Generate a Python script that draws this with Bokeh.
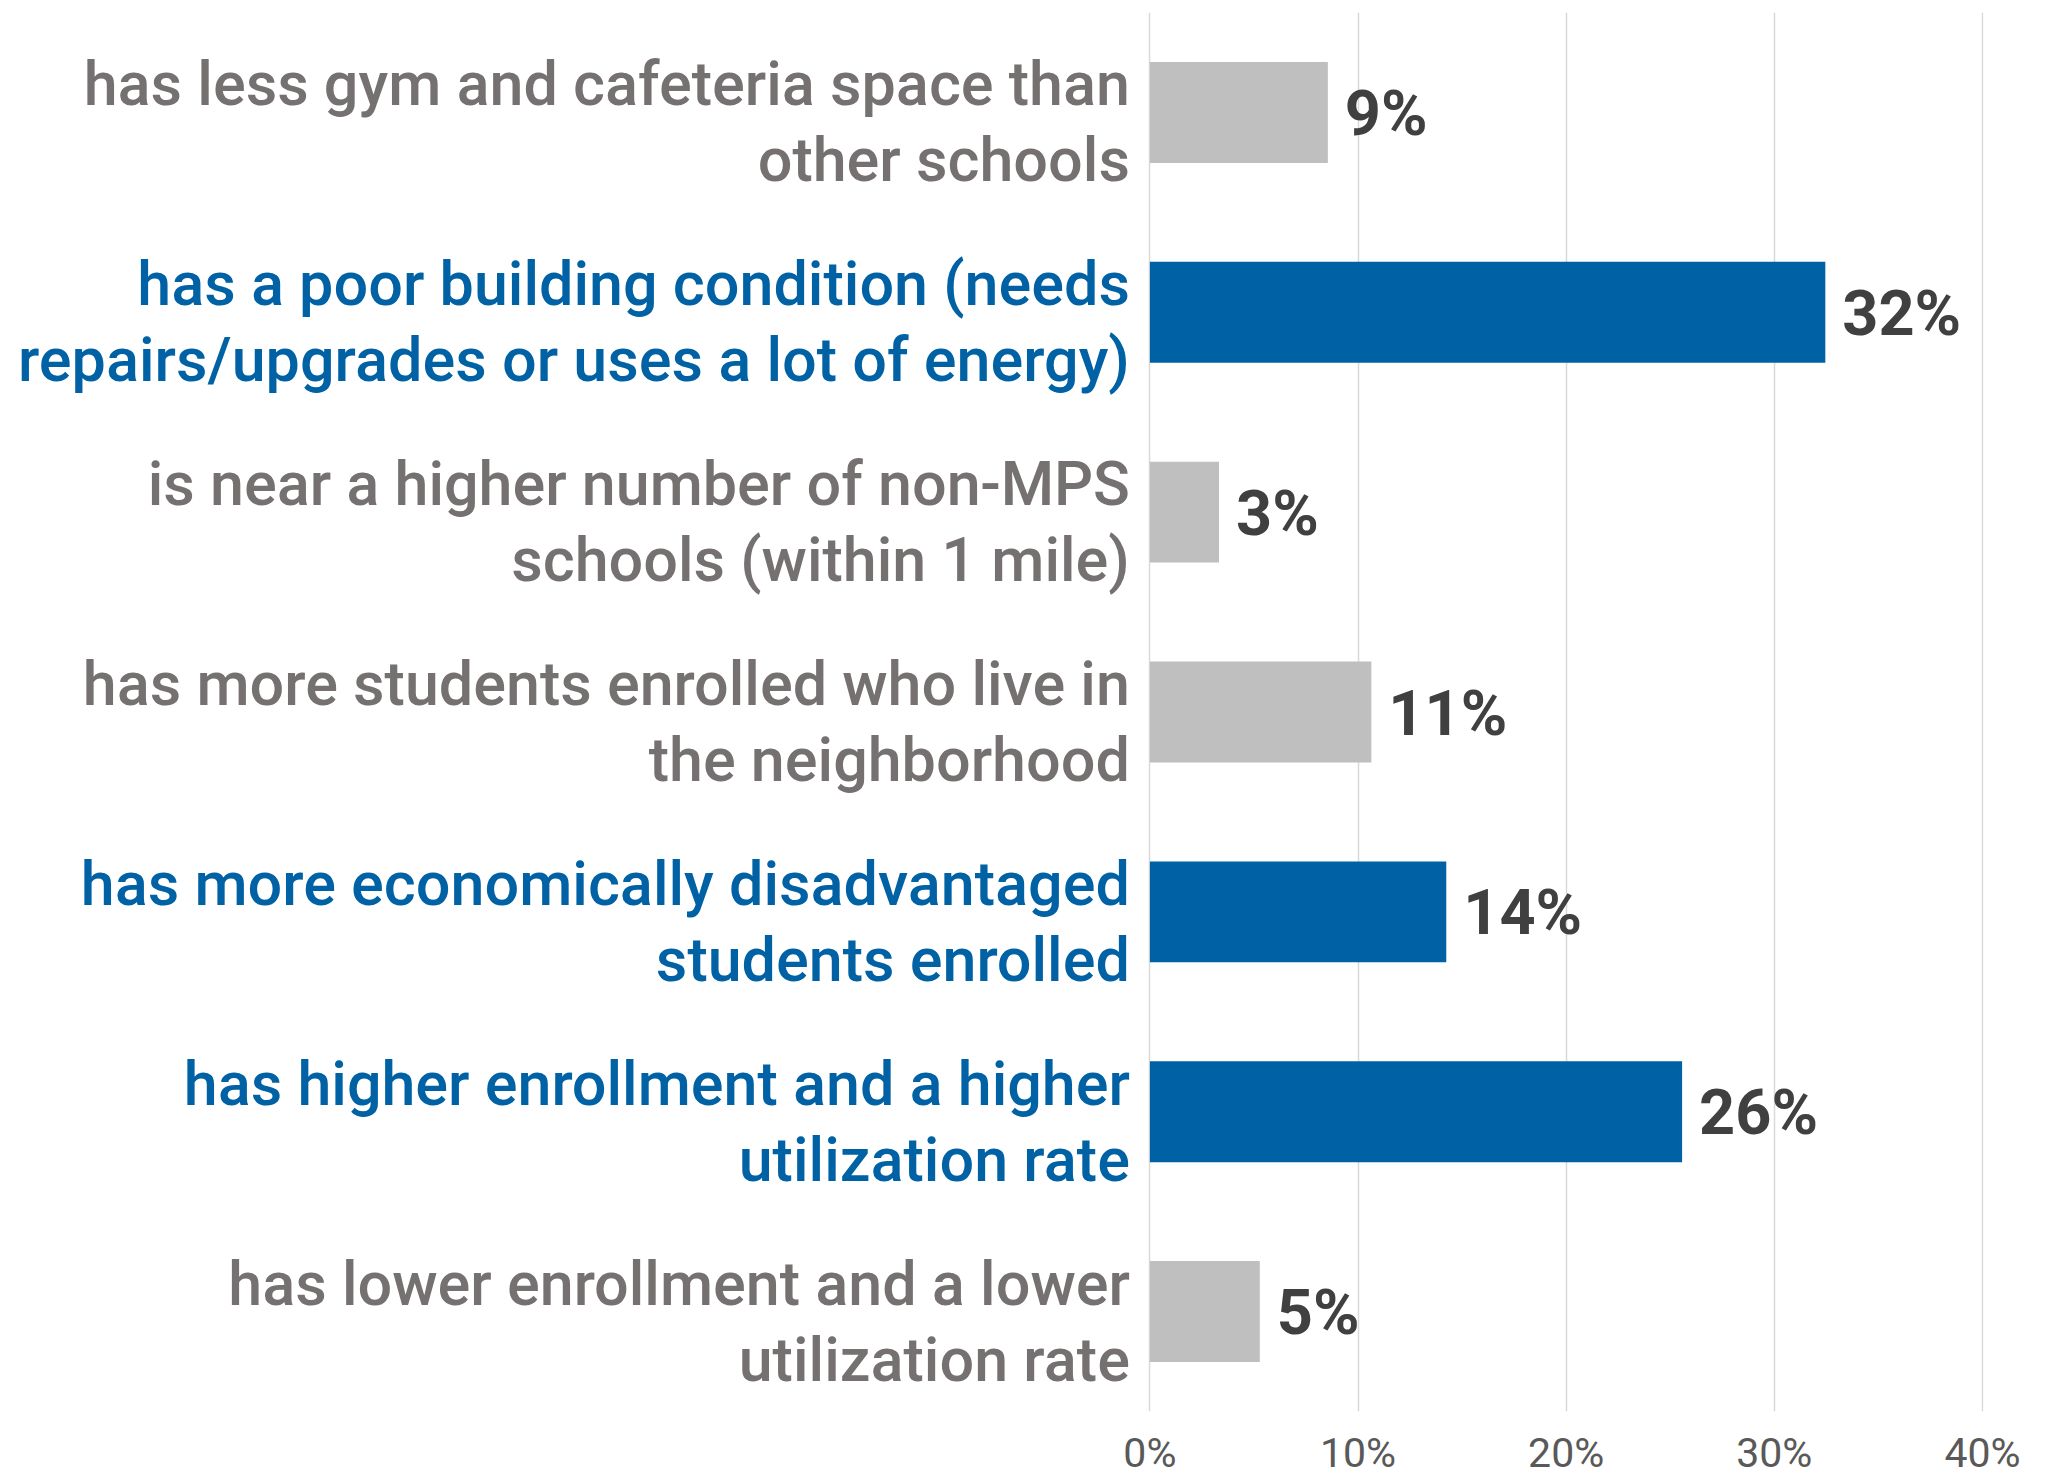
from bokeh.plotting import figure
from bokeh.models import ColumnDataSource, FactorRange, Range1d, FixedTicker
from bokeh.core.properties import value
from bokeh.embed import file_html
from bokeh.resources import INLINE

categories = [
    "has less gym and cafeteria space than\nother schools",
    "has a poor building condition (needs\nrepairs/upgrades or uses a lot of energy)",
    "is near a higher number of non-MPS\nschools (within 1 mile)",
    "has more students enrolled who live in\nthe neighborhood",
    "has more economically disadvantaged\nstudents enrolled",
    "has higher enrollment and a higher\nutilization rate",
    "has lower enrollment and a lower\nutilization rate",
]
values = [8.55, 32.45, 3.32, 10.64, 14.24, 25.57, 5.28]
value_labels = ["9%", "32%", "3%", "11%", "14%", "26%", "5%"]
highlight = [False, True, False, False, True, True, False]
x_ticks = [0, 10, 20, 30, 40]

BLUE = "#0062A4"
GRAY_BAR = "#BFBFBF"
GRAY_TXT = "#767171"
FONT = "Roboto"
LABEL_FONT = "Roboto Medium"

# layout (figure sits at page origin)
FIG_W, FIG_H = 2057, 1479
X0_PX, X40_PX = 1150, 1983
px_per_unit = (X40_PX - X0_PX) / 40.0
x_start = -X0_PX / px_per_unit

keys = [f"c{i}" for i in range(len(categories))]
src = ColumnDataSource(dict(
    key=keys,
    cat=categories,
    val=values,
    vlab=value_labels,
    zero=[0] * len(values),
    bar_color=[BLUE if h else GRAY_BAR for h in highlight],
    txt_color=[BLUE if h else GRAY_TXT for h in highlight],
))

p = figure(
    width=FIG_W, height=FIG_H,
    y_range=FactorRange(factors=list(reversed(keys)), range_padding=0),
    x_range=Range1d(x_start, 40.0 + 0.05),
    output_backend="svg", toolbar_location=None,
    min_border_left=0, min_border_right=FIG_W - X40_PX, min_border_top=12, min_border_bottom=0,
)
p.outline_line_color = None
p.background_fill_color = "white"
p.border_fill_color = "white"

p.hbar(y="key", right="val", left=0, height=0.505, color="bar_color", source=src, line_color=None)

p.yaxis.visible = False
p.ygrid.grid_line_color = None
p.xgrid.grid_line_color = "#D9D9D9"
p.xgrid.grid_line_width = 1.5
p.xaxis.ticker = FixedTicker(ticks=x_ticks)
p.xaxis.major_label_overrides = {t: f"{t}%" for t in x_ticks}
p.xaxis.axis_line_color = None
p.xaxis.major_tick_line_color = None
p.xaxis.minor_tick_line_color = None
p.xaxis.major_tick_out = 0
p.xaxis.major_tick_in = 0
p.xaxis.major_label_standoff = 17
p.xaxis.major_label_text_font = FONT
p.xaxis.major_label_text_font_size = "41px"
p.xaxis.major_label_text_color = "#595959"

p.text(
    x="zero", y="key", text="cat", source=src,
    x_offset=-20, y_offset=10,
    text_align="right", text_baseline="middle",
    text_font=value(LABEL_FONT), text_font_size="61px", text_color="txt_color",
    text_line_height=1.055,
)

p.text(
    x="val", y="key", text="vlab", source=src,
    x_offset=17, y_offset=1,
    text_align="left", text_baseline="middle",
    text_font=value(FONT), text_font_size="63px", text_font_style="bold",
    text_color="#404040",
)

open("out.html", "w").write(file_html(p, INLINE))
